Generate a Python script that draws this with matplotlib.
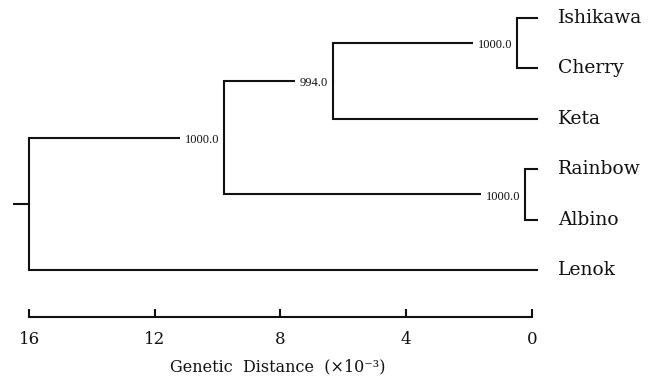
import matplotlib.pyplot as plt

# tips, top to bottom
taxa = ["Ishikawa", "Cherry", "Keta", "Rainbow", "Albino", "Lenok"]

# internal nodes: children (top to bottom), height (genetic distance x10^-3), bootstrap
node_names = ["IC", "ICK", "RA", "Salmo", "Root"]
node_children = [["Ishikawa", "Cherry"], ["IC", "Keta"], ["Rainbow", "Albino"],
                 ["ICK", "RA"], ["Salmo", "Lenok"]]
node_heights = [0.47, 6.33, 0.21, 9.8, 16.0]
node_support = ["1000.0", "994.0", "1000.0", "1000.0", ""]

scale_ticks = [16, 12, 8, 4, 0]

LW = 1.5
INK = "#111111"
SERIF = ["DejaVu Serif"]
SMALL = ["Liberation Serif", "DejaVu Serif"]

# layout: tips at x=0 and y=index, internal nodes at mid of first/last child
xpos = {t: 0.0 for t in taxa}
ypos = {t: float(i) for i, t in enumerate(taxa)}
support = {}
for name, kids, h, s in zip(node_names, node_children, node_heights, node_support):
    xpos[name] = h
    ypos[name] = (ypos[kids[0]] + ypos[kids[-1]]) / 2
    support[name] = s

fig = plt.figure(figsize=(6.57, 3.85), dpi=100)
ax = fig.add_axes([0, 0, 1, 1])
ax.set_xlim(16.93, -3.99)
ax.set_ylim(7.28, -0.357)

tip_ext = -0.18
for name, kids in zip(node_names, node_children):
    h = xpos[name]
    ax.plot([h, h], [ypos[kids[0]], ypos[kids[-1]]], color=INK, lw=LW,
            solid_capstyle="butt", zorder=6)
    for k in kids:
        end = xpos[k] if k in support else tip_ext
        ax.plot([h, end], [ypos[k], ypos[k]], color=INK, lw=LW,
                solid_capstyle="projecting")
        if support.get(k):
            ax.annotate(support[k], (xpos[k], ypos[k]), xytext=(-3.5, -1.5),
                        textcoords="offset points", ha="right", va="center",
                        fontsize=9, family=SMALL, color=INK, zorder=5,
                        bbox=dict(boxstyle="square,pad=0.4", fc="white", ec="none"))

# root stub
root = node_names[-1]
ax.plot([xpos[root], xpos[root] + 0.5], [ypos[root], ypos[root]], color=INK, lw=LW)

for t in taxa:
    ax.annotate(t, (tip_ext, ypos[t]), xytext=(15, 0), textcoords="offset points",
                ha="left", va="center", fontsize=13.5, family=SERIF, color=INK)

# scale bar as the bottom axis
for side in ["top", "left", "right"]:
    ax.spines[side].set_visible(False)
ax.spines["bottom"].set_position(("data", 5.93))
ax.spines["bottom"].set_bounds(0, 16)
ax.spines["bottom"].set_linewidth(LW)
ax.spines["bottom"].set_color(INK)
ax.set_xticks(scale_ticks)
ax.set_xticklabels([str(v) for v in scale_ticks], family=SERIF)
ax.tick_params(axis="x", direction="in", length=6, width=LW, labelsize=12,
               pad=10, colors=INK)
ax.set_yticks([])
ax.set_xlabel("Genetic  Distance  (×10⁻³)", fontsize=11.5, family=SERIF, color=INK)
ax.xaxis.set_label_coords(0.423, 0.07)

fig.savefig("out.png", dpi=100)
